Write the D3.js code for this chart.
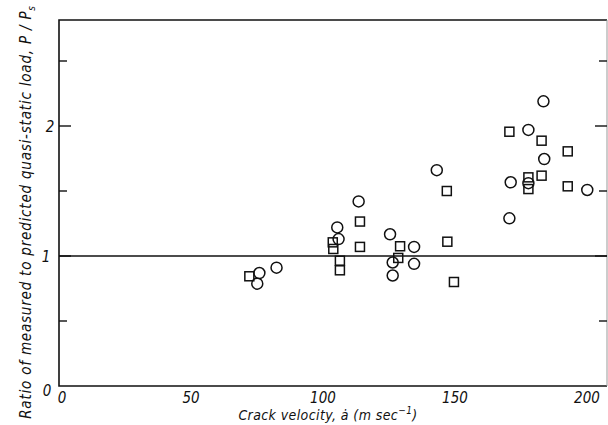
<!DOCTYPE html>
<html>
<head>
<meta charset="utf-8">
<script src="https://cdn.jsdelivr.net/npm/d3@7"></script>
<style>
  body { margin: 0; background: #fff; }
  svg { display: block; }
  text { font-family: "DejaVu Sans Condensed", "Liberation Sans Narrow", sans-serif; font-style: italic; fill: #111; }
</style>
</head>
<body>
<svg id="chart" width="608" height="425"></svg>
<script>
// circles (one test series) and squares (other series): crack velocity, load ratio
const circleVel = [75.9, 75.1, 82.4, 105.4, 105.9, 113.5, 125.4, 126.4, 126.4, 134.5, 134.5, 143.1, 183.5, 177.8, 183.8, 171.1, 177.8, 200.1, 170.6];
const circleRatio = [0.869, 0.787, 0.91, 1.22, 1.13, 1.42, 1.167, 0.95, 0.85, 1.07, 0.94, 1.66, 2.19, 1.97, 1.746, 1.567, 1.56, 1.508, 1.29];
const squareVel = [72.1, 103.7, 103.9, 106.4, 106.4, 114, 114, 129.2, 128.5, 146.9, 147.1, 149.6, 170.6, 182.8, 192.7, 177.8, 177.8, 182.8, 192.7];
const squareRatio = [0.844, 1.105, 1.054, 0.964, 0.89, 1.265, 1.07, 1.075, 0.985, 1.50, 1.11, 0.80, 1.956, 1.887, 1.805, 1.605, 1.515, 1.618, 1.536];
const xTicks = [0, 50, 100, 150, 200];
const yTicks = [0, 1, 2];
const yMinor = [0.5, 1.5, 2.5];

const svg = d3.select('#chart');
const padL = 59, padR = 607, padT = 20, padB = 386;

const x = d3.scaleLinear().domain([0, 200]).range([padL, padL + 200 * 2.64]);
const y = d3.scaleLinear().domain([0, 2]).range([padB, padB - 260]);

// frame
svg.append('path')
  .attr('d', `M${padR},${padT}H${padL}V${padB}H${padR}`)
  .attr('fill', 'none').attr('stroke', '#111').attr('stroke-width', 1.6);
svg.append('line')
  .attr('x1', padR).attr('x2', padR).attr('y1', padT).attr('y2', padB)
  .attr('stroke', '#999').attr('stroke-width', 1);

// left and right inward ticks
const ticksAll = yTicks.concat(yMinor).filter(d => d > 0);
svg.selectAll('.ltick').data(ticksAll).join('line')
  .attr('x1', padL).attr('x2', d => padL + (Number.isInteger(d) ? 12 : 8))
  .attr('y1', d => y(d)).attr('y2', d => y(d))
  .attr('stroke', '#111').attr('stroke-width', 1.4);
svg.selectAll('.rtick').data(ticksAll).join('line')
  .attr('x1', padR).attr('x2', d => padR - (Number.isInteger(d) ? 12 : 8))
  .attr('y1', d => y(d)).attr('y2', d => y(d))
  .attr('stroke', '#111').attr('stroke-width', 1.4);

// reference line at ratio = 1
svg.append('line')
  .attr('x1', padL).attr('x2', padR).attr('y1', y(1)).attr('y2', y(1))
  .attr('stroke', '#111').attr('stroke-width', 1.4);

// tick labels
const yLabX = { 0: 47, 1: 46, 2: 50 };
svg.selectAll('.ylab').data(yTicks).join('text')
  .attr('x', d => yLabX[d]).attr('y', d => y(d) + (d === 0 ? 10 : 6))
  .attr('text-anchor', 'middle').attr('font-size', 15)
  .text(d => d);
svg.selectAll('.xlab').data(xTicks).join('text')
  .attr('x', d => x(d) + (d === 0 ? 3 : 0)).attr('y', 403)
  .attr('text-anchor', 'middle').attr('font-size', 15)
  .text(d => d);

// axis titles
const xt = svg.append('text')
  .attr('x', 328).attr('y', 420).attr('text-anchor', 'middle').attr('font-size', 14)
  .attr('letter-spacing', 0.4);
xt.append('tspan').text('Crack velocity, \u0227 (m sec');
xt.append('tspan').attr('dy', -6).attr('font-size', 10).text('\u22121');
xt.append('tspan').attr('dy', 6).text(')');

const yt = svg.append('text')
  .attr('transform', 'translate(31,212) rotate(-90)')
  .attr('text-anchor', 'middle').attr('font-size', 15)
  .attr('letter-spacing', 0.8);
yt.append('tspan').text('Ratio of measured to predicted quasi-static load,  P / P');
yt.append('tspan').attr('dy', 4).attr('font-size', 10).text('s');

// markers
const circles = circleVel.map((v, i) => ({ v, r: circleRatio[i] }));
const squares = squareVel.map((v, i) => ({ v, r: squareRatio[i] }));

svg.selectAll('.sq').data(squares).join('rect')
  .attr('x', d => x(d.v) - 4.5).attr('y', d => y(d.r) - 4.5)
  .attr('width', 9).attr('height', 9)
  .attr('fill', 'none').attr('stroke', '#111').attr('stroke-width', 1.5);

svg.selectAll('.ci').data(circles).join('circle')
  .attr('cx', d => x(d.v)).attr('cy', d => y(d.r)).attr('r', 5.5)
  .attr('fill', 'none').attr('stroke', '#111').attr('stroke-width', 1.5);
</script>
</body>
</html>
